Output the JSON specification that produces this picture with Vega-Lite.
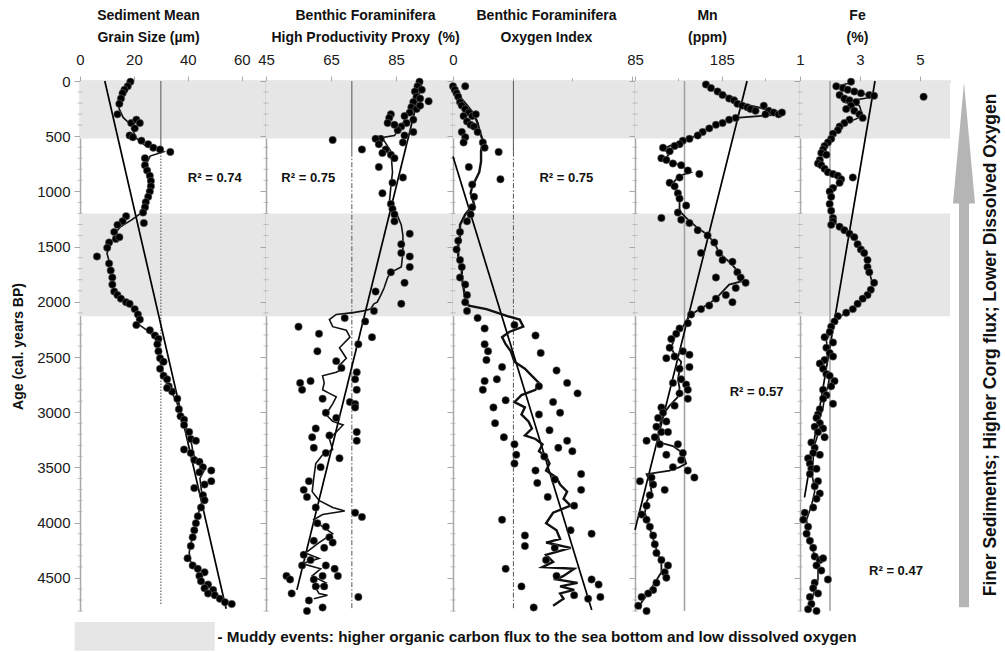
{
"$schema": "https://vega.github.io/schema/vega-lite/v6.json",
"padding": {"left": 11, "top": 8, "right": 0, "bottom": 0},
"background": "white",
"spacing": 0,
"bounds": "flush",
"resolve": {"scale": {"x": "independent", "y": "independent"}, "axis": {"x": "independent", "y": "independent"}},
"config": {
 "view": {"stroke": null},
 "font": "Liberation Sans",
 "axis": {"grid": false, "domainColor": "#a8a8a8", "tickColor": "#a8a8a8", "domainWidth": 1.5, "labelFont": "Liberation Sans", "labelFontSize": 15, "labelColor": "#1a1a1a", "titleFont": "Liberation Sans", "titleFontSize": 14, "titleFontWeight": "bold", "titleColor": "#111", "labelOverlap": false, "labelFlush": false, "labelBound": false}
},
"datasets": {
 "bands": [{"y": 0, "y2": 520}, {"y": 1200, "y2": 2130}],
 "minor": [{"y":100},{"y":200},{"y":300},{"y":400},{"y":600},{"y":700},{"y":800},{"y":900},{"y":1100},{"y":1200},{"y":1300},{"y":1400},{"y":1600},{"y":1700},{"y":1800},{"y":1900},{"y":2100},{"y":2200},{"y":2300},{"y":2400},{"y":2600},{"y":2700},{"y":2800},{"y":2900},{"y":3100},{"y":3200},{"y":3300},{"y":3400},{"y":3600},{"y":3700},{"y":3800},{"y":3900},{"y":4100},{"y":4200},{"y":4300},{"y":4400},{"y":4600},{"y":4700},{"y":4800}],
 "legbox": [{"x": -2, "x2": 50, "y": 4900, "y2": 5160}],
 "p1": [{"x":18.7,"y":6},{"x":17.7,"y":48},{"x":16.5,"y":79},{"x":15.8,"y":111},{"x":15.2,"y":159},{"x":14.6,"y":207},{"x":13.9,"y":302},{"x":19.0,"y":381},{"x":20.9,"y":350},{"x":22.2,"y":381},{"x":20.3,"y":429},{"x":18.4,"y":493},{"x":19.6,"y":509},{"x":22.8,"y":540},{"x":25.3,"y":572},{"x":27.2,"y":604},{"x":29.7,"y":620},{"x":33.5,"y":642},{"x":24.1,"y":699},{"x":24.1,"y":763},{"x":24.9,"y":811},{"x":25.9,"y":858},{"x":26.3,"y":906},{"x":26.3,"y":954},{"x":25.9,"y":1001},{"x":25.3,"y":1049},{"x":24.4,"y":1097},{"x":24.1,"y":1144},{"x":23.4,"y":1192},{"x":23.7,"y":1287},{"x":17.1,"y":1224},{"x":15.8,"y":1271},{"x":13.9,"y":1303},{"x":12.7,"y":1367},{"x":13.3,"y":1430},{"x":14.6,"y":1414},{"x":10.8,"y":1462},{"x":10.1,"y":1510},{"x":6.3,"y":1589},{"x":10.8,"y":1653},{"x":11.4,"y":1716},{"x":12.0,"y":1780},{"x":12.0,"y":1844},{"x":12.7,"y":1907},{"x":13.9,"y":1939},{"x":15.2,"y":1971},{"x":17.1,"y":2003},{"x":18.4,"y":2018},{"x":20.3,"y":2066},{"x":21.5,"y":2114},{"x":22.2,"y":2161},{"x":20.9,"y":2209},{"x":25.9,"y":2257},{"x":27.8,"y":2305},{"x":29.1,"y":2336},{"x":28.7,"y":2384},{"x":29.1,"y":2448},{"x":29.7,"y":2511},{"x":31.0,"y":2543},{"x":29.7,"y":2606},{"x":31.0,"y":2670},{"x":32.3,"y":2702},{"x":32.9,"y":2765},{"x":34.2,"y":2813},{"x":32.3,"y":2781},{"x":36.1,"y":2877},{"x":36.7,"y":2972},{"x":37.3,"y":3036},{"x":38.6,"y":3067},{"x":38.6,"y":3115},{"x":40.5,"y":3179},{"x":41.1,"y":3242},{"x":43.0,"y":3258},{"x":38.6,"y":3338},{"x":41.1,"y":3369},{"x":42.4,"y":3433},{"x":44.3,"y":3449},{"x":45.6,"y":3497},{"x":48.7,"y":3528},{"x":44.3,"y":3544},{"x":48.7,"y":3624},{"x":46.2,"y":3655},{"x":42.4,"y":3687},{"x":45.6,"y":3751},{"x":46.2,"y":3798},{"x":44.9,"y":3862},{"x":43.7,"y":3942},{"x":43.0,"y":4005},{"x":42.4,"y":4069},{"x":41.8,"y":4132},{"x":41.1,"y":4212},{"x":39.9,"y":4323},{"x":41.8,"y":4387},{"x":43.7,"y":4418},{"x":46.2,"y":4450},{"x":44.3,"y":4482},{"x":44.9,"y":4530},{"x":47.5,"y":4561},{"x":46.2,"y":4593},{"x":49.4,"y":4609},{"x":47.5,"y":4641},{"x":50.0,"y":4657},{"x":51.9,"y":4689},{"x":53.8,"y":4720},{"x":56.3,"y":4736}],
 "p1m": [{"x":18.5,"y":5},{"x":16.5,"y":80},{"x":15,"y":160},{"x":14.5,"y":250},{"x":16,"y":330},{"x":19,"y":400},{"x":20,"y":470},{"x":21,"y":520},{"x":24,"y":580},{"x":29,"y":625},{"x":31,"y":640},{"x":26,"y":680},{"x":24.5,"y":760},{"x":25.5,"y":860},{"x":26,"y":950},{"x":25.5,"y":1040},{"x":24,"y":1130},{"x":22.5,"y":1200},{"x":19,"y":1260},{"x":15,"y":1320},{"x":13,"y":1380},{"x":12,"y":1450},{"x":10,"y":1560},{"x":11,"y":1650},{"x":11.5,"y":1750},{"x":12,"y":1850},{"x":13.5,"y":1930},{"x":16,"y":1990},{"x":19,"y":2050},{"x":21,"y":2110},{"x":21.5,"y":2200},{"x":25,"y":2260},{"x":28,"y":2330},{"x":29,"y":2420},{"x":29.5,"y":2520},{"x":30.5,"y":2620},{"x":31.5,"y":2700},{"x":33,"y":2790},{"x":35.5,"y":2880},{"x":37,"y":2990},{"x":38.5,"y":3090},{"x":40.5,"y":3200},{"x":41.5,"y":3300},{"x":42,"y":3380},{"x":44,"y":3460},{"x":46,"y":3530},{"x":44.5,"y":3600},{"x":45,"y":3700},{"x":45.5,"y":3790},{"x":44.5,"y":3870},{"x":43.5,"y":3950},{"x":42.5,"y":4050},{"x":41.5,"y":4150},{"x":40.5,"y":4270},{"x":41,"y":4350},{"x":43,"y":4420},{"x":45,"y":4500},{"x":46.5,"y":4580},{"x":48,"y":4640},{"x":50.5,"y":4680},{"x":54,"y":4730}],
 "p2": [{"x":92.2,"y":6},{"x":91.6,"y":48},{"x":92.9,"y":79},{"x":90.8,"y":95},{"x":91.3,"y":143},{"x":92.4,"y":159},{"x":90.3,"y":191},{"x":95.0,"y":184},{"x":89.7,"y":238},{"x":91.3,"y":254},{"x":92.4,"y":223},{"x":89.2,"y":286},{"x":87.6,"y":318},{"x":90.3,"y":350},{"x":88.2,"y":381},{"x":86.6,"y":413},{"x":85.5,"y":445},{"x":90.3,"y":461},{"x":87.6,"y":493},{"x":83.4,"y":302},{"x":82.9,"y":334},{"x":82.4,"y":381},{"x":84.5,"y":397},{"x":87.1,"y":556},{"x":80.3,"y":524},{"x":78.7,"y":524},{"x":79.7,"y":572},{"x":81.8,"y":620},{"x":80.8,"y":652},{"x":83.4,"y":668},{"x":84.5,"y":699},{"x":74.5,"y":620},{"x":65.5,"y":534},{"x":79.7,"y":779},{"x":87.1,"y":874},{"x":83.9,"y":922},{"x":80.8,"y":1017},{"x":83.4,"y":1113},{"x":83.9,"y":1160},{"x":84.5,"y":1208},{"x":84.5,"y":1271},{"x":89.2,"y":1383},{"x":86.6,"y":1478},{"x":89.2,"y":1589},{"x":86.6,"y":1558},{"x":89.2,"y":1685},{"x":83.4,"y":1732},{"x":87.6,"y":1828},{"x":78.7,"y":1907},{"x":86.6,"y":2018},{"x":78.2,"y":2082},{"x":75.5,"y":2177},{"x":69.2,"y":2146},{"x":55.0,"y":2225},{"x":61.3,"y":2289},{"x":77.6,"y":2320},{"x":73.4,"y":2384},{"x":60.8,"y":2448},{"x":66.6,"y":2537},{"x":68.2,"y":2600},{"x":72.9,"y":2638},{"x":58.7,"y":2718},{"x":72.4,"y":2702},{"x":55.5,"y":2734},{"x":56.1,"y":2797},{"x":72.9,"y":2797},{"x":62.4,"y":2877},{"x":70.8,"y":2908},{"x":72.4,"y":2925},{"x":63.4,"y":3004},{"x":72.4,"y":2956},{"x":66.6,"y":3051},{"x":60.3,"y":3147},{"x":72.9,"y":3179},{"x":59.2,"y":3226},{"x":64.5,"y":3210},{"x":72.9,"y":3258},{"x":59.7,"y":3322},{"x":63.4,"y":3369},{"x":67.6,"y":3417},{"x":61.8,"y":3497},{"x":58.2,"y":3624},{"x":56.6,"y":3703},{"x":57.6,"y":3767},{"x":60.3,"y":3862},{"x":72.4,"y":3910},{"x":74.5,"y":3948},{"x":60.8,"y":4005},{"x":63.4,"y":4037},{"x":64.5,"y":4132},{"x":59.7,"y":4164},{"x":65.5,"y":4180},{"x":62.9,"y":4228},{"x":56.6,"y":4291},{"x":58.7,"y":4339},{"x":56.1,"y":4387},{"x":63.4,"y":4387},{"x":66.1,"y":4418},{"x":51.3,"y":4482},{"x":52.4,"y":4514},{"x":59.7,"y":4514},{"x":62.4,"y":4482},{"x":67.1,"y":4482},{"x":52.9,"y":4641},{"x":60.3,"y":4577},{"x":62.9,"y":4577},{"x":58.2,"y":4704},{"x":73.4,"y":4673},{"x":62.4,"y":4768},{"x":57.6,"y":4800}],
 "p2m": [{"x":91.8,"y":16},{"x":90.3,"y":159},{"x":88.7,"y":286},{"x":86.6,"y":413},{"x":84.5,"y":493},{"x":78.2,"y":524},{"x":81.3,"y":540},{"x":83.4,"y":636},{"x":83.9,"y":826},{"x":83.4,"y":954},{"x":82.9,"y":1113},{"x":83.9,"y":1176},{"x":85.5,"y":1224},{"x":86.6,"y":1303},{"x":87.1,"y":1399},{"x":87.1,"y":1558},{"x":86.6,"y":1685},{"x":83.4,"y":1732},{"x":82.4,"y":1780},{"x":81.3,"y":1875},{"x":80.3,"y":1939},{"x":79.2,"y":2003},{"x":78.2,"y":2018},{"x":77.1,"y":2066},{"x":75.0,"y":2082},{"x":71.8,"y":2098},{"x":66.6,"y":2114},{"x":64.5,"y":2161},{"x":65.5,"y":2225},{"x":69.7,"y":2257},{"x":70.8,"y":2320},{"x":67.6,"y":2416},{"x":69.7,"y":2511},{"x":67.6,"y":2575},{"x":68.7,"y":2606},{"x":66.6,"y":2638},{"x":62.4,"y":2670},{"x":62.9,"y":2734},{"x":62.4,"y":2797},{"x":64.5,"y":2829},{"x":66.6,"y":2861},{"x":65.5,"y":2924},{"x":63.4,"y":3020},{"x":65.5,"y":3083},{"x":68.7,"y":3115},{"x":66.6,"y":3179},{"x":64.5,"y":3242},{"x":65.5,"y":3338},{"x":62.4,"y":3385},{"x":60.3,"y":3465},{"x":59.7,"y":3592},{"x":59.2,"y":3719},{"x":61.3,"y":3798},{"x":65.5,"y":3862},{"x":69.2,"y":3894},{"x":62.4,"y":3926},{"x":59.7,"y":3973},{"x":62.4,"y":4037},{"x":65.5,"y":4100},{"x":61.3,"y":4180},{"x":57.1,"y":4275},{"x":61.3,"y":4323},{"x":56.1,"y":4371},{"x":61.8,"y":4418},{"x":59.2,"y":4482},{"x":63.4,"y":4545},{"x":60.3,"y":4593},{"x":61.3,"y":4641},{"x":63.9,"y":4657},{"x":59.7,"y":4689}],
 "p3": [{"x":0,"y":48},{"x":1.2,"y":79},{"x":2.4,"y":111},{"x":3.5,"y":143},{"x":8.2,"y":48},{"x":4.7,"y":191},{"x":5.9,"y":223},{"x":8.2,"y":254},{"x":10.6,"y":286},{"x":12.9,"y":318},{"x":15.3,"y":302},{"x":7.1,"y":318},{"x":9.4,"y":366},{"x":11.8,"y":397},{"x":14.1,"y":413},{"x":5.9,"y":461},{"x":8.2,"y":509},{"x":7.1,"y":556},{"x":16.5,"y":461},{"x":20.0,"y":556},{"x":21.2,"y":604},{"x":30.6,"y":642},{"x":10.6,"y":779},{"x":31.8,"y":890},{"x":12.9,"y":938},{"x":14.1,"y":1049},{"x":12.9,"y":1144},{"x":11.8,"y":1208},{"x":9.4,"y":1271},{"x":4.7,"y":1367},{"x":3.5,"y":1446},{"x":2.4,"y":1526},{"x":4.7,"y":1621},{"x":5.9,"y":1685},{"x":4.7,"y":1780},{"x":8.2,"y":1844},{"x":9.4,"y":1939},{"x":8.2,"y":2003},{"x":9.4,"y":2082},{"x":16.5,"y":2146},{"x":21.2,"y":2241},{"x":41.2,"y":2209},{"x":55.3,"y":2305},{"x":21.2,"y":2384},{"x":23.5,"y":2448},{"x":58.8,"y":2463},{"x":22.4,"y":2527},{"x":32.9,"y":2591},{"x":69.4,"y":2622},{"x":21.2,"y":2718},{"x":29.4,"y":2702},{"x":76.5,"y":2734},{"x":20.0,"y":2797},{"x":83.5,"y":2829},{"x":57.6,"y":2765},{"x":35.3,"y":2892},{"x":27.1,"y":2956},{"x":67.1,"y":2908},{"x":28.2,"y":3099},{"x":57.6,"y":3020},{"x":71.8,"y":3004},{"x":34.1,"y":3226},{"x":64.7,"y":3163},{"x":76.5,"y":3258},{"x":41.2,"y":3290},{"x":70.6,"y":3322},{"x":80.0,"y":3353},{"x":42.4,"y":3385},{"x":61.2,"y":3401},{"x":41.2,"y":3465},{"x":55.3,"y":3528},{"x":85.9,"y":3560},{"x":68.2,"y":3608},{"x":56.5,"y":3640},{"x":85.9,"y":3703},{"x":63.5,"y":3767},{"x":81.2,"y":3846},{"x":32.9,"y":3973},{"x":48.2,"y":4116},{"x":78.8,"y":4069},{"x":92.9,"y":4100},{"x":48.2,"y":4212},{"x":68.2,"y":4228},{"x":62.4,"y":4339},{"x":35.3,"y":4418},{"x":69.4,"y":4482},{"x":45.9,"y":4577},{"x":92.9,"y":4514},{"x":97.6,"y":4561},{"x":98.8,"y":4673},{"x":90.6,"y":4689},{"x":54.1,"y":4768},{"x":81.2,"y":4657}],
 "p3m": [{"x":0,"y":48},{"x":3.5,"y":127},{"x":9.4,"y":223},{"x":14.1,"y":302},{"x":16.5,"y":381},{"x":17.6,"y":445},{"x":20.0,"y":540},{"x":18.8,"y":636},{"x":18.8,"y":731},{"x":17.6,"y":826},{"x":15.3,"y":890},{"x":12.9,"y":954},{"x":11.8,"y":1017},{"x":14.1,"y":1113},{"x":8.2,"y":1208},{"x":4.7,"y":1303},{"x":4.7,"y":1399},{"x":3.5,"y":1494},{"x":3.5,"y":1589},{"x":5.9,"y":1685},{"x":5.9,"y":1780},{"x":7.1,"y":1875},{"x":8.2,"y":1971},{"x":10.6,"y":2034},{"x":22.4,"y":2066},{"x":36.5,"y":2130},{"x":44.7,"y":2161},{"x":47.1,"y":2225},{"x":37.6,"y":2273},{"x":32.9,"y":2320},{"x":35.3,"y":2384},{"x":38.8,"y":2448},{"x":41.2,"y":2543},{"x":48.2,"y":2606},{"x":52.9,"y":2670},{"x":57.6,"y":2734},{"x":55.3,"y":2797},{"x":45.9,"y":2845},{"x":41.2,"y":2908},{"x":48.2,"y":2956},{"x":45.9,"y":3020},{"x":50.6,"y":3083},{"x":52.9,"y":3147},{"x":48.2,"y":3210},{"x":55.3,"y":3242},{"x":60.0,"y":3290},{"x":57.6,"y":3353},{"x":62.4,"y":3401},{"x":64.7,"y":3465},{"x":62.4,"y":3528},{"x":69.4,"y":3592},{"x":71.8,"y":3655},{"x":76.5,"y":3719},{"x":74.1,"y":3783},{"x":78.8,"y":3846},{"x":67.1,"y":3910},{"x":62.4,"y":4005},{"x":69.4,"y":4069},{"x":71.8,"y":4148},{"x":62.4,"y":4180},{"x":78.8,"y":4228},{"x":62.4,"y":4291},{"x":67.1,"y":4355},{"x":60.0,"y":4402},{"x":81.2,"y":4418},{"x":74.1,"y":4482},{"x":69.4,"y":4514},{"x":83.5,"y":4545},{"x":71.8,"y":4577},{"x":81.2,"y":4609},{"x":71.8,"y":4641},{"x":74.1,"y":4689},{"x":67.1,"y":4752}],
 "p4": [{"x":166.7,"y":32},{"x":172.5,"y":64},{"x":180.1,"y":95},{"x":185.8,"y":127},{"x":193.4,"y":159},{"x":199.1,"y":175},{"x":202.9,"y":207},{"x":208.6,"y":223},{"x":214.3,"y":238},{"x":218.1,"y":254},{"x":223.8,"y":270},{"x":233.3,"y":223},{"x":239.0,"y":270},{"x":244.7,"y":286},{"x":250.4,"y":302},{"x":254.2,"y":286},{"x":235.2,"y":302},{"x":201.0,"y":334},{"x":193.4,"y":350},{"x":185.8,"y":381},{"x":178.2,"y":397},{"x":170.5,"y":429},{"x":162.9,"y":461},{"x":157.2,"y":493},{"x":147.7,"y":524},{"x":140.1,"y":540},{"x":136.3,"y":572},{"x":130.6,"y":588},{"x":117.3,"y":604},{"x":124.9,"y":636},{"x":115.4,"y":699},{"x":121.1,"y":715},{"x":128.7,"y":747},{"x":138.2,"y":763},{"x":145.8,"y":811},{"x":159.1,"y":842},{"x":136.3,"y":874},{"x":124.9,"y":922},{"x":130.6,"y":954},{"x":134.4,"y":1017},{"x":136.3,"y":1065},{"x":143.9,"y":1128},{"x":134.4,"y":1192},{"x":115.4,"y":1240},{"x":138.2,"y":1256},{"x":147.7,"y":1287},{"x":157.2,"y":1351},{"x":168.6,"y":1399},{"x":176.3,"y":1462},{"x":161.0,"y":1558},{"x":181.9,"y":1558},{"x":185.8,"y":1621},{"x":197.2,"y":1637},{"x":202.9,"y":1732},{"x":206.7,"y":1780},{"x":212.4,"y":1828},{"x":201.0,"y":1875},{"x":178.2,"y":1780},{"x":189.6,"y":1939},{"x":197.2,"y":2003},{"x":178.2,"y":1971},{"x":170.5,"y":2034},{"x":161.0,"y":2066},{"x":149.6,"y":2114},{"x":145.8,"y":2193},{"x":136.3,"y":2241},{"x":132.5,"y":2289},{"x":126.8,"y":2336},{"x":124.9,"y":2416},{"x":121.1,"y":2511},{"x":130.6,"y":2495},{"x":140.1,"y":2448},{"x":147.7,"y":2479},{"x":147.7,"y":2591},{"x":136.3,"y":2606},{"x":138.2,"y":2702},{"x":128.7,"y":2734},{"x":143.9,"y":2749},{"x":145.8,"y":2797},{"x":136.3,"y":2829},{"x":145.8,"y":2877},{"x":130.6,"y":2940},{"x":115.4,"y":2956},{"x":117.3,"y":3004},{"x":111.6,"y":3051},{"x":121.1,"y":3083},{"x":109.7,"y":3131},{"x":115.4,"y":3179},{"x":123.0,"y":3179},{"x":98.3,"y":3258},{"x":107.8,"y":3226},{"x":113.5,"y":3290},{"x":121.1,"y":3385},{"x":134.4,"y":3290},{"x":140.1,"y":3369},{"x":128.7,"y":3497},{"x":138.2,"y":3433},{"x":145.8,"y":3528},{"x":153.4,"y":3592},{"x":90.7,"y":3624},{"x":104.0,"y":3592},{"x":105.9,"y":3655},{"x":119.2,"y":3703},{"x":102.1,"y":3751},{"x":98.3,"y":3846},{"x":92.6,"y":3926},{"x":98.3,"y":3973},{"x":102.1,"y":4037},{"x":105.9,"y":4116},{"x":107.8,"y":4196},{"x":109.7,"y":4275},{"x":115.4,"y":4339},{"x":123.0,"y":4387},{"x":119.2,"y":4450},{"x":121.1,"y":4498},{"x":109.7,"y":4545},{"x":105.9,"y":4609},{"x":100.2,"y":4641},{"x":92.6,"y":4673},{"x":88.8,"y":4752},{"x":98.3,"y":4800}],
 "p4m": [{"x":164.8,"y":32},{"x":178.2,"y":79},{"x":193.4,"y":143},{"x":208.6,"y":207},{"x":227.6,"y":238},{"x":246.6,"y":286},{"x":254.2,"y":302},{"x":227.6,"y":318},{"x":201.0,"y":334},{"x":182.0,"y":381},{"x":166.7,"y":445},{"x":151.5,"y":509},{"x":136.3,"y":556},{"x":124.9,"y":588},{"x":117.3,"y":620},{"x":124.9,"y":652},{"x":119.2,"y":715},{"x":132.5,"y":747},{"x":143.9,"y":795},{"x":149.6,"y":826},{"x":136.3,"y":858},{"x":128.7,"y":922},{"x":132.5,"y":1001},{"x":136.3,"y":1081},{"x":136.3,"y":1176},{"x":143.9,"y":1240},{"x":155.3,"y":1319},{"x":166.7,"y":1383},{"x":176.3,"y":1462},{"x":182.0,"y":1558},{"x":193.4,"y":1637},{"x":201.0,"y":1701},{"x":208.6,"y":1812},{"x":193.4,"y":1844},{"x":182.0,"y":1939},{"x":170.5,"y":2018},{"x":159.1,"y":2066},{"x":147.7,"y":2130},{"x":140.1,"y":2225},{"x":130.6,"y":2320},{"x":126.8,"y":2416},{"x":130.6,"y":2479},{"x":138.2,"y":2543},{"x":136.3,"y":2622},{"x":134.4,"y":2702},{"x":136.3,"y":2781},{"x":134.4,"y":2861},{"x":124.9,"y":2940},{"x":117.3,"y":3020},{"x":113.5,"y":3115},{"x":111.6,"y":3210},{"x":113.5,"y":3274},{"x":128.7,"y":3306},{"x":140.1,"y":3369},{"x":143.9,"y":3465},{"x":136.3,"y":3497},{"x":124.9,"y":3528},{"x":98.3,"y":3560},{"x":102.1,"y":3624},{"x":104.0,"y":3719},{"x":98.3,"y":3814},{"x":96.4,"y":3910},{"x":100.2,"y":4005},{"x":104.0,"y":4100},{"x":107.8,"y":4196},{"x":111.6,"y":4291},{"x":115.4,"y":4355},{"x":115.4,"y":4450},{"x":107.8,"y":4545},{"x":100.2,"y":4641},{"x":92.6,"y":4720},{"x":90.7,"y":4784}],
 "p5": [{"x":2.70,"y":6},{"x":5.12,"y":143},{"x":2.21,"y":48},{"x":2.43,"y":64},{"x":2.59,"y":79},{"x":2.81,"y":95},{"x":3.03,"y":111},{"x":3.31,"y":127},{"x":3.47,"y":134},{"x":2.32,"y":127},{"x":2.48,"y":159},{"x":2.65,"y":175},{"x":2.87,"y":191},{"x":2.70,"y":223},{"x":2.54,"y":254},{"x":2.81,"y":270},{"x":2.98,"y":302},{"x":3.09,"y":334},{"x":2.65,"y":350},{"x":2.48,"y":381},{"x":2.32,"y":413},{"x":2.26,"y":445},{"x":2.10,"y":477},{"x":2.04,"y":524},{"x":1.93,"y":556},{"x":1.82,"y":588},{"x":1.77,"y":620},{"x":1.71,"y":652},{"x":1.88,"y":668},{"x":1.66,"y":715},{"x":1.60,"y":747},{"x":1.71,"y":763},{"x":1.82,"y":795},{"x":1.93,"y":826},{"x":2.10,"y":842},{"x":2.26,"y":858},{"x":2.37,"y":890},{"x":2.32,"y":922},{"x":2.76,"y":874},{"x":2.10,"y":969},{"x":1.99,"y":1001},{"x":2.04,"y":1049},{"x":1.99,"y":1113},{"x":2.04,"y":1176},{"x":2.10,"y":1240},{"x":2.10,"y":1271},{"x":2.04,"y":1303},{"x":2.32,"y":1319},{"x":2.48,"y":1351},{"x":2.65,"y":1383},{"x":2.81,"y":1414},{"x":2.92,"y":1478},{"x":3.03,"y":1526},{"x":3.14,"y":1558},{"x":3.25,"y":1621},{"x":3.25,"y":1685},{"x":3.31,"y":1732},{"x":3.47,"y":1828},{"x":3.36,"y":1891},{"x":3.25,"y":1939},{"x":3.09,"y":1971},{"x":2.92,"y":2018},{"x":2.76,"y":2066},{"x":2.54,"y":2098},{"x":2.26,"y":2130},{"x":2.15,"y":2177},{"x":2.04,"y":2225},{"x":1.99,"y":2273},{"x":1.82,"y":2320},{"x":2.10,"y":2368},{"x":1.88,"y":2416},{"x":1.99,"y":2463},{"x":2.10,"y":2495},{"x":1.82,"y":2527},{"x":1.66,"y":2559},{"x":1.77,"y":2606},{"x":1.88,"y":2654},{"x":1.99,"y":2670},{"x":2.15,"y":2718},{"x":2.04,"y":2765},{"x":1.77,"y":2797},{"x":1.88,"y":2845},{"x":1.77,"y":2877},{"x":2.10,"y":2924},{"x":1.66,"y":2972},{"x":1.60,"y":3020},{"x":1.55,"y":3051},{"x":1.66,"y":3099},{"x":1.49,"y":3131},{"x":1.77,"y":3147},{"x":1.60,"y":3179},{"x":1.82,"y":3226},{"x":1.38,"y":3274},{"x":1.49,"y":3322},{"x":1.44,"y":3369},{"x":1.66,"y":3385},{"x":1.27,"y":3417},{"x":1.33,"y":3465},{"x":1.38,"y":3512},{"x":1.55,"y":3512},{"x":1.33,"y":3560},{"x":1.60,"y":3624},{"x":1.49,"y":3671},{"x":1.66,"y":3735},{"x":1.55,"y":3783},{"x":1.44,"y":3862},{"x":1.16,"y":3910},{"x":1.11,"y":3973},{"x":1.27,"y":4037},{"x":1.22,"y":4100},{"x":1.33,"y":4164},{"x":1.44,"y":4228},{"x":1.49,"y":4307},{"x":1.66,"y":4339},{"x":1.77,"y":4323},{"x":1.55,"y":4387},{"x":1.71,"y":4434},{"x":1.93,"y":4514},{"x":1.49,"y":4545},{"x":1.44,"y":4593},{"x":1.60,"y":4641},{"x":1.33,"y":4673},{"x":1.38,"y":4736},{"x":1.27,"y":4784},{"x":1.55,"y":4800}],
 "p5m": [{"x":2.70,"y":16},{"x":2.21,"y":48},{"x":3.47,"y":143},{"x":2.43,"y":191},{"x":2.98,"y":223},{"x":3.09,"y":318},{"x":2.54,"y":381},{"x":2.21,"y":461},{"x":1.93,"y":556},{"x":1.77,"y":636},{"x":1.66,"y":731},{"x":1.88,"y":811},{"x":2.32,"y":858},{"x":2.32,"y":922},{"x":2.04,"y":1017},{"x":2.04,"y":1176},{"x":2.10,"y":1271},{"x":2.43,"y":1351},{"x":2.81,"y":1430},{"x":3.03,"y":1526},{"x":3.25,"y":1637},{"x":3.36,"y":1780},{"x":3.42,"y":1844},{"x":3.20,"y":1955},{"x":2.81,"y":2050},{"x":2.26,"y":2146},{"x":2.04,"y":2241},{"x":1.88,"y":2352},{"x":1.93,"y":2479},{"x":1.77,"y":2575},{"x":1.99,"y":2670},{"x":1.93,"y":2765},{"x":1.82,"y":2861},{"x":1.77,"y":2956},{"x":1.66,"y":3051},{"x":1.66,"y":3147},{"x":1.55,"y":3242},{"x":1.44,"y":3338},{"x":1.44,"y":3433},{"x":1.38,"y":3528},{"x":1.44,"y":3624},{"x":1.49,"y":3719},{"x":1.38,"y":3846},{"x":1.22,"y":3973},{"x":1.27,"y":4100},{"x":1.38,"y":4228},{"x":1.55,"y":4323},{"x":1.60,"y":4418},{"x":1.60,"y":4514},{"x":1.49,"y":4609},{"x":1.38,"y":4704},{"x":1.33,"y":4784}],
 "shaft": [{"x": 9, "x2": 19, "y": 1100, "y2": 4765}],
 "head": [{"x": 14, "y": 562}]
},
"hconcat": [
 {
  "width": 186, "height": 530,
  "layer": [
   {"data": {"name": "bands"}, "mark": {"type": "rect", "fill": "#e6e6e6"},
    "encoding": {"y": {"field": "y", "type": "quantitative", "scale": {"domain": [0, 4800], "reverse": true, "nice": false, "zero": false},
      "axis": {"orient": "left", "title": "Age (cal. years BP)", "format": "d", "values": [0,500,1000,1500,2000,2500,3000,3500,4000,4500],
       "labelOverlap": false, "tickSize": 6, "labelPadding": 4, "titlePadding": 11}},
     "y2": {"field": "y2"}}},
   {"data": {"name": "minor"}, "mark": {"type": "tick", "orient": "horizontal", "size": 5, "thickness": 1, "color": "#a8a8a8"},
    "encoding": {"x": {"datum": 0, "type": "quantitative", "scale": {"domain": [0, 69], "nice": false, "zero": false}}, "y": {"field": "y", "type": "quantitative", "scale": {"domain": [0, 4800], "reverse": true, "nice": false, "zero": false}}}},
   {"data": {"name": "legbox"}, "mark": {"type": "rect", "fill": "#e6e6e6"},
    "encoding": {"x": {"field": "x", "type": "quantitative", "scale": {"domain": [0, 69], "nice": false, "zero": false},
      "axis": {"orient": "top", "title": ["Sediment Mean", "Grain Size (µm)"], "values": [0,5,10,15,20,25,30,35,40,45,50,55,60,65], "labelOverlap": false,
       "labelExpr": "datum.value % 20 === 0 ? datum.label : ''", "tickSize": {"condition": {"test": "datum.value % 20 === 0", "value": 5}, "value": 3}, "labelPadding": 9,
       "titleX": 68, "titleY": -62, "titleAlign": "center", "titleBaseline": "alphabetic", "titleLineHeight": 22}},
     "x2": {"field": "x2"}, "y": {"field": "y", "type": "quantitative", "scale": {"domain": [0, 4800], "reverse": true, "nice": false, "zero": false}}, "y2": {"field": "y2"}}},
   {"data": {"values": [{"x": 51, "y": 5036, "t": "- Muddy events: higher organic carbon flux to the sea bottom and low dissolved oxygen"}]},
    "mark": {"type": "text", "align": "left", "baseline": "middle", "font": "Liberation Sans Narrow, Liberation Sans", "fontSize": 15.3, "fontWeight": "bold", "color": "#111"},
    "encoding": {"x": {"field": "x", "type": "quantitative", "scale": {"domain": [0, 69], "nice": false, "zero": false}}, "y": {"field": "y", "type": "quantitative", "scale": {"domain": [0, 4800], "reverse": true, "nice": false, "zero": false}}, "text": {"field": "t"}}},
   {"data": {"values": [{"x": 30, "y": 0, "y2": 620}]}, "mark": {"type": "rule", "color": "#555", "strokeWidth": 1},
    "encoding": {"x": {"field": "x", "type": "quantitative", "scale": {"domain": [0, 69], "nice": false, "zero": false}}, "y": {"field": "y", "type": "quantitative", "scale": {"domain": [0, 4800], "reverse": true, "nice": false, "zero": false}}, "y2": {"field": "y2"}}},
   {"data": {"values": [{"x": 30, "y": 620, "y2": 4736}]}, "mark": {"type": "rule", "color": "#666", "strokeWidth": 1.2, "strokeDash": [1.5, 1.5]},
    "encoding": {"x": {"field": "x", "type": "quantitative", "scale": {"domain": [0, 69], "nice": false, "zero": false}}, "y": {"field": "y", "type": "quantitative", "scale": {"domain": [0, 4800], "reverse": true, "nice": false, "zero": false}}, "y2": {"field": "y2"}}},
   {"data": {"values": [{"x": 9.2, "y": 0, "x2": 54.2, "y2": 4780}]}, "mark": {"type": "rule", "color": "#000", "strokeWidth": 1.7},
    "encoding": {"x": {"field": "x", "type": "quantitative", "scale": {"domain": [0, 69], "nice": false, "zero": false}}, "x2": {"field": "x2"}, "y": {"field": "y", "type": "quantitative", "scale": {"domain": [0, 4800], "reverse": true, "nice": false, "zero": false}}, "y2": {"field": "y2"}}},
   {"data": {"name": "p1m"}, "mark": {"type": "line", "color": "#111", "strokeWidth": 1.6},
    "encoding": {"x": {"field": "x", "type": "quantitative", "scale": {"domain": [0, 69], "nice": false, "zero": false}}, "y": {"field": "y", "type": "quantitative", "scale": {"domain": [0, 4800], "reverse": true, "nice": false, "zero": false}}, "order": {"field": "y"}}},
   {"data": {"name": "p1"}, "mark": {"type": "point", "shape": "circle", "filled": true, "size": 56, "color": "#000", "opacity": 1, "stroke": "#777", "strokeWidth": 0.5},
    "encoding": {"x": {"field": "x", "type": "quantitative", "scale": {"domain": [0, 69], "nice": false, "zero": false}}, "y": {"field": "y", "type": "quantitative", "scale": {"domain": [0, 4800], "reverse": true, "nice": false, "zero": false}}}},
   {"data": {"values": [{"x": 50, "y": 880, "t": "R² = 0.74"}]}, "mark": {"type": "text", "fontSize": 13, "fontWeight": "bold", "color": "#111", "align": "center", "baseline": "middle"},
    "encoding": {"x": {"field": "x", "type": "quantitative", "scale": {"domain": [0, 69], "nice": false, "zero": false}}, "y": {"field": "y", "type": "quantitative", "scale": {"domain": [0, 4800], "reverse": true, "nice": false, "zero": false}}, "text": {"field": "t"}}}
  ]
 },
 {
  "width": 187, "height": 530,
  "layer": [
   {"data": {"name": "bands"}, "mark": {"type": "rect", "fill": "#e6e6e6"},
    "encoding": {"y": {"field": "y", "type": "quantitative", "scale": {"domain": [0, 4800], "reverse": true, "nice": false, "zero": false},
      "axis": {"orient": "left", "title": null, "labels": false, "values": [0,500,1000,1500,2000,2500,3000,3500,4000,4500], "tickSize": 6}},
     "y2": {"field": "y2"}}},
   {"data": {"name": "minor"}, "mark": {"type": "tick", "orient": "horizontal", "size": 5, "thickness": 1, "color": "#a8a8a8"},
    "encoding": {"x": {"datum": 45, "type": "quantitative", "scale": {"domain": [45, 102.5], "nice": false, "zero": false}}, "y": {"field": "y", "type": "quantitative", "scale": {"domain": [0, 4800], "reverse": true, "nice": false, "zero": false}}}},
   {"data": {"values": [{"x": 71.4, "y": 0, "y2": 640}]}, "mark": {"type": "rule", "color": "#555", "strokeWidth": 1},
    "encoding": {"x": {"field": "x", "type": "quantitative", "scale": {"domain": [45, 102.5], "nice": false, "zero": false},
      "axis": {"orient": "top", "title": ["Benthic Foraminifera", "High Productivity Proxy\u00a0\u00a0(%)"], "values": [45,50,55,60,65,70,75,80,85,90,95,100], "labelOverlap": false,
       "labelExpr": "(datum.value - 45) % 20 === 0 ? datum.label : ''", "tickSize": {"condition": {"test": "(datum.value - 45) % 20 === 0", "value": 5}, "value": 3}, "labelPadding": 9,
       "titleX": 99, "titleY": -62, "titleAlign": "center", "titleBaseline": "alphabetic", "titleLineHeight": 22}},
     "y": {"field": "y", "type": "quantitative", "scale": {"domain": [0, 4800], "reverse": true, "nice": false, "zero": false}}, "y2": {"field": "y2"}}},
   {"data": {"values": [{"x": 71.4, "y": 640, "y2": 4780}]}, "mark": {"type": "rule", "color": "#555", "strokeWidth": 1, "strokeDash": [5, 2, 1.5, 2]},
    "encoding": {"x": {"field": "x", "type": "quantitative", "scale": {"domain": [45, 102.5], "nice": false, "zero": false}}, "y": {"field": "y", "type": "quantitative", "scale": {"domain": [0, 4800], "reverse": true, "nice": false, "zero": false}}, "y2": {"field": "y2"}}},
   {"data": {"values": [{"x": 92.9, "y": 16, "x2": 54.5, "y2": 4609}]}, "mark": {"type": "rule", "color": "#000", "strokeWidth": 1.7},
    "encoding": {"x": {"field": "x", "type": "quantitative", "scale": {"domain": [45, 102.5], "nice": false, "zero": false}}, "x2": {"field": "x2"}, "y": {"field": "y", "type": "quantitative", "scale": {"domain": [0, 4800], "reverse": true, "nice": false, "zero": false}}, "y2": {"field": "y2"}}},
   {"data": {"name": "p2m"}, "mark": {"type": "line", "color": "#111", "strokeWidth": 1.6},
    "encoding": {"x": {"field": "x", "type": "quantitative", "scale": {"domain": [45, 102.5], "nice": false, "zero": false}}, "y": {"field": "y", "type": "quantitative", "scale": {"domain": [0, 4800], "reverse": true, "nice": false, "zero": false}}, "order": {"field": "y"}}},
   {"data": {"name": "p2"}, "mark": {"type": "point", "shape": "circle", "filled": true, "size": 56, "color": "#000", "opacity": 1, "stroke": "#777", "strokeWidth": 0.5},
    "encoding": {"x": {"field": "x", "type": "quantitative", "scale": {"domain": [45, 102.5], "nice": false, "zero": false}}, "y": {"field": "y", "type": "quantitative", "scale": {"domain": [0, 4800], "reverse": true, "nice": false, "zero": false}}}},
   {"data": {"values": [{"x": 58, "y": 880, "t": "R² = 0.75"}]}, "mark": {"type": "text", "fontSize": 13, "fontWeight": "bold", "color": "#111", "align": "center", "baseline": "middle"},
    "encoding": {"x": {"field": "x", "type": "quantitative", "scale": {"domain": [45, 102.5], "nice": false, "zero": false}}, "y": {"field": "y", "type": "quantitative", "scale": {"domain": [0, 4800], "reverse": true, "nice": false, "zero": false}}, "text": {"field": "t"}}}
  ]
 },
 {
  "width": 182, "height": 530,
  "layer": [
   {"data": {"name": "bands"}, "mark": {"type": "rect", "fill": "#e6e6e6"},
    "encoding": {"y": {"field": "y", "type": "quantitative", "scale": {"domain": [0, 4800], "reverse": true, "nice": false, "zero": false},
      "axis": {"orient": "left", "title": null, "labels": false, "values": [0,500,1000,1500,2000,2500,3000,3500,4000,4500], "tickSize": 6}},
     "y2": {"field": "y2"}}},
   {"data": {"name": "minor"}, "mark": {"type": "tick", "orient": "horizontal", "size": 5, "thickness": 1, "color": "#a8a8a8"},
    "encoding": {"x": {"datum": 0, "type": "quantitative", "scale": {"domain": [0, 122], "nice": false, "zero": false}}, "y": {"field": "y", "type": "quantitative", "scale": {"domain": [0, 4800], "reverse": true, "nice": false, "zero": false}}}},
   {"data": {"values": [{"x": 40.5, "y": 0, "y2": 640}]}, "mark": {"type": "rule", "color": "#555", "strokeWidth": 1},
    "encoding": {"x": {"field": "x", "type": "quantitative", "scale": {"domain": [0, 122], "nice": false, "zero": false},
      "axis": {"orient": "top", "title": ["Benthic Foraminifera", "Oxygen Index"], "values": [0,10,20,30,40,50,60,70,80,90,100,110,120], "labelOverlap": false,
       "labelExpr": "datum.value % 30 === 0 && datum.value <= 90 ? datum.label : ''", "tickSize": {"condition": {"test": "datum.value % 30 === 0", "value": 5}, "value": 3}, "labelPadding": 9,
       "titleX": 93, "titleY": -62, "titleAlign": "center", "titleBaseline": "alphabetic", "titleLineHeight": 22}},
     "y": {"field": "y", "type": "quantitative", "scale": {"domain": [0, 4800], "reverse": true, "nice": false, "zero": false}}, "y2": {"field": "y2"}}},
   {"data": {"values": [{"x": 40.5, "y": 640, "y2": 4780}]}, "mark": {"type": "rule", "color": "#555", "strokeWidth": 1, "strokeDash": [5, 2, 1.5, 2]},
    "encoding": {"x": {"field": "x", "type": "quantitative", "scale": {"domain": [0, 122], "nice": false, "zero": false}}, "y": {"field": "y", "type": "quantitative", "scale": {"domain": [0, 4800], "reverse": true, "nice": false, "zero": false}}, "y2": {"field": "y2"}}},
   {"data": {"values": [{"x": 0, "y": 683, "x2": 93, "y2": 4790}]}, "mark": {"type": "rule", "color": "#000", "strokeWidth": 1.7},
    "encoding": {"x": {"field": "x", "type": "quantitative", "scale": {"domain": [0, 122], "nice": false, "zero": false}}, "x2": {"field": "x2"}, "y": {"field": "y", "type": "quantitative", "scale": {"domain": [0, 4800], "reverse": true, "nice": false, "zero": false}}, "y2": {"field": "y2"}}},
   {"data": {"name": "p3m"}, "mark": {"type": "line", "color": "#111", "strokeWidth": 2.4},
    "encoding": {"x": {"field": "x", "type": "quantitative", "scale": {"domain": [0, 122], "nice": false, "zero": false}}, "y": {"field": "y", "type": "quantitative", "scale": {"domain": [0, 4800], "reverse": true, "nice": false, "zero": false}}, "order": {"field": "y"}}},
   {"data": {"name": "p3"}, "mark": {"type": "point", "shape": "circle", "filled": true, "size": 56, "color": "#000", "opacity": 1, "stroke": "#777", "strokeWidth": 0.5},
    "encoding": {"x": {"field": "x", "type": "quantitative", "scale": {"domain": [0, 122], "nice": false, "zero": false}}, "y": {"field": "y", "type": "quantitative", "scale": {"domain": [0, 4800], "reverse": true, "nice": false, "zero": false}}}},
   {"data": {"values": [{"x": 76, "y": 880, "t": "R² = 0.75"}]}, "mark": {"type": "text", "fontSize": 13, "fontWeight": "bold", "color": "#111", "align": "center", "baseline": "middle"},
    "encoding": {"x": {"field": "x", "type": "quantitative", "scale": {"domain": [0, 122], "nice": false, "zero": false}}, "y": {"field": "y", "type": "quantitative", "scale": {"domain": [0, 4800], "reverse": true, "nice": false, "zero": false}}, "text": {"field": "t"}}}
  ]
 },
 {
  "width": 165, "height": 530,
  "layer": [
   {"data": {"name": "bands"}, "mark": {"type": "rect", "fill": "#e6e6e6"},
    "encoding": {"y": {"field": "y", "type": "quantitative", "scale": {"domain": [0, 4800], "reverse": true, "nice": false, "zero": false},
      "axis": {"orient": "left", "title": null, "labels": false, "values": [0,500,1000,1500,2000,2500,3000,3500,4000,4500], "tickSize": 6}},
     "y2": {"field": "y2"}}},
   {"data": {"name": "minor"}, "mark": {"type": "tick", "orient": "horizontal", "size": 5, "thickness": 1, "color": "#a8a8a8"},
    "encoding": {"x": {"datum": 85, "type": "quantitative", "scale": {"domain": [85, 275], "nice": false, "zero": false}}, "y": {"field": "y", "type": "quantitative", "scale": {"domain": [0, 4800], "reverse": true, "nice": false, "zero": false}}}},
   {"data": {"values": [{"x": 142, "y": 0, "y2": 4800}]}, "mark": {"type": "rule", "color": "#a0a0a0", "strokeWidth": 1.5},
    "encoding": {"x": {"field": "x", "type": "quantitative", "scale": {"domain": [85, 275], "nice": false, "zero": false},
      "axis": {"orient": "top", "title": ["Mn", "(ppm)"], "values": [85,110,135,160,185,210,235,260], "labelOverlap": false,
       "labelExpr": "datum.value === 85 || datum.value === 185 ? datum.label : ''", "tickSize": {"condition": {"test": "datum.value === 85 || datum.value === 185", "value": 5}, "value": 3}, "labelPadding": 9,
       "titleX": 72, "titleY": -62, "titleAlign": "center", "titleBaseline": "alphabetic", "titleLineHeight": 22}},
     "y": {"field": "y", "type": "quantitative", "scale": {"domain": [0, 4800], "reverse": true, "nice": false, "zero": false}}, "y2": {"field": "y2"}}},
   {"data": {"values": [{"x": 214, "y": 0, "x2": 85, "y2": 4065}]}, "mark": {"type": "rule", "color": "#000", "strokeWidth": 1.7},
    "encoding": {"x": {"field": "x", "type": "quantitative", "scale": {"domain": [85, 275], "nice": false, "zero": false}}, "x2": {"field": "x2"}, "y": {"field": "y", "type": "quantitative", "scale": {"domain": [0, 4800], "reverse": true, "nice": false, "zero": false}}, "y2": {"field": "y2"}}},
   {"data": {"name": "p4m"}, "mark": {"type": "line", "color": "#111", "strokeWidth": 1.8},
    "encoding": {"x": {"field": "x", "type": "quantitative", "scale": {"domain": [85, 275], "nice": false, "zero": false}}, "y": {"field": "y", "type": "quantitative", "scale": {"domain": [0, 4800], "reverse": true, "nice": false, "zero": false}}, "order": {"field": "y"}}},
   {"data": {"name": "p4"}, "mark": {"type": "point", "shape": "circle", "filled": true, "size": 56, "color": "#000", "opacity": 1, "stroke": "#777", "strokeWidth": 0.5},
    "encoding": {"x": {"field": "x", "type": "quantitative", "scale": {"domain": [85, 275], "nice": false, "zero": false}}, "y": {"field": "y", "type": "quantitative", "scale": {"domain": [0, 4800], "reverse": true, "nice": false, "zero": false}}}},
   {"data": {"values": [{"x": 225, "y": 2817, "t": "R² = 0.57"}]}, "mark": {"type": "text", "fontSize": 13, "fontWeight": "bold", "color": "#111", "align": "center", "baseline": "middle"},
    "encoding": {"x": {"field": "x", "type": "quantitative", "scale": {"domain": [85, 275], "nice": false, "zero": false}}, "y": {"field": "y", "type": "quantitative", "scale": {"domain": [0, 4800], "reverse": true, "nice": false, "zero": false}}, "text": {"field": "t"}}}
  ]
 },
 {
  "width": 150, "height": 530,
  "layer": [
   {"data": {"name": "bands"}, "mark": {"type": "rect", "fill": "#e6e6e6"},
    "encoding": {"y": {"field": "y", "type": "quantitative", "scale": {"domain": [0, 4800], "reverse": true, "nice": false, "zero": false},
      "axis": {"orient": "left", "title": null, "labels": false, "values": [0,500,1000,1500,2000,2500,3000,3500,4000,4500], "tickSize": 6}},
     "y2": {"field": "y2"}}},
   {"data": {"name": "minor"}, "mark": {"type": "tick", "orient": "horizontal", "size": 5, "thickness": 1, "color": "#a8a8a8"},
    "encoding": {"x": {"datum": 1, "type": "quantitative", "scale": {"domain": [1, 6], "nice": false, "zero": false}}, "y": {"field": "y", "type": "quantitative", "scale": {"domain": [0, 4800], "reverse": true, "nice": false, "zero": false}}}},
   {"data": {"values": [{"x": 2.0, "y": 0, "y2": 4800}]}, "mark": {"type": "rule", "color": "#a0a0a0", "strokeWidth": 1.5},
    "encoding": {"x": {"field": "x", "type": "quantitative", "scale": {"domain": [1, 6], "nice": false, "zero": false},
      "axis": {"orient": "top", "title": ["Fe", "(%)"], "values": [1,1.5,2,2.5,3,3.5,4,4.5,5,5.5,6], "labelOverlap": false,
       "labelExpr": "datum.value === 1 || datum.value === 3 || datum.value === 5 ? datum.label : ''", "tickSize": {"condition": {"test": "datum.value === 1 || datum.value === 3 || datum.value === 5", "value": 5}, "value": 3}, "labelPadding": 9,
       "titleX": 57, "titleY": -62, "titleAlign": "center", "titleBaseline": "alphabetic", "titleLineHeight": 22}},
     "y": {"field": "y", "type": "quantitative", "scale": {"domain": [0, 4800], "reverse": true, "nice": false, "zero": false}}, "y2": {"field": "y2"}}},
   {"data": {"values": [{"x": 3.5, "y": 0, "x2": 1.15, "y2": 3770}]}, "mark": {"type": "rule", "color": "#000", "strokeWidth": 1.7},
    "encoding": {"x": {"field": "x", "type": "quantitative", "scale": {"domain": [1, 6], "nice": false, "zero": false}}, "x2": {"field": "x2"}, "y": {"field": "y", "type": "quantitative", "scale": {"domain": [0, 4800], "reverse": true, "nice": false, "zero": false}}, "y2": {"field": "y2"}}},
   {"data": {"name": "p5m"}, "mark": {"type": "line", "color": "#111", "strokeWidth": 1.6},
    "encoding": {"x": {"field": "x", "type": "quantitative", "scale": {"domain": [1, 6], "nice": false, "zero": false}}, "y": {"field": "y", "type": "quantitative", "scale": {"domain": [0, 4800], "reverse": true, "nice": false, "zero": false}}, "order": {"field": "y"}}},
   {"data": {"name": "p5"}, "mark": {"type": "point", "shape": "circle", "filled": true, "size": 56, "color": "#000", "opacity": 1, "stroke": "#777", "strokeWidth": 0.5},
    "encoding": {"x": {"field": "x", "type": "quantitative", "scale": {"domain": [1, 6], "nice": false, "zero": false}}, "y": {"field": "y", "type": "quantitative", "scale": {"domain": [0, 4800], "reverse": true, "nice": false, "zero": false}}}},
   {"data": {"values": [{"x": 4.2, "y": 4440, "t": "R² = 0.47"}]}, "mark": {"type": "text", "fontSize": 13, "fontWeight": "bold", "color": "#111", "align": "center", "baseline": "middle"},
    "encoding": {"x": {"field": "x", "type": "quantitative", "scale": {"domain": [1, 6], "nice": false, "zero": false}}, "y": {"field": "y", "type": "quantitative", "scale": {"domain": [0, 4800], "reverse": true, "nice": false, "zero": false}}, "text": {"field": "t"}}}
  ]
 },
 {
  "width": 55, "height": 530,
  "layer": [
   {"data": {"name": "shaft"}, "mark": {"type": "rect", "color": "#b5b5b5"},
    "encoding": {"y": {"field": "y", "type": "quantitative", "scale": {"domain": [0, 4800], "reverse": true, "nice": false, "zero": false}, "axis": null}, "y2": {"field": "y2"},
     "x": {"field": "x", "type": "quantitative", "scale": {"domain": [0, 55], "nice": false, "zero": false}, "axis": null}, "x2": {"field": "x2"}}},
   {"data": {"name": "head"}, "mark": {"type": "point", "shape": "M0,-1L0.182,1L-0.182,1Z", "filled": true, "size": 14641, "color": "#b5b5b5", "opacity": 1, "strokeWidth": 0},
    "encoding": {"y": {"field": "y", "type": "quantitative", "scale": {"domain": [0, 4800], "reverse": true, "nice": false, "zero": false}, "axis": null},
     "x": {"field": "x", "type": "quantitative", "scale": {"domain": [0, 55], "nice": false, "zero": false}, "axis": null}}},
   {"data": {"values": [{"x": 41, "y": 2390, "t": "Finer Sediments; Higher Corg flux; Lower Dissolved Oxygen"}]},
    "mark": {"type": "text", "angle": 270, "align": "center", "baseline": "middle", "font": "Liberation Sans Narrow, Liberation Sans", "fontSize": 17.5, "fontWeight": "bold", "color": "#111"},
    "encoding": {"x": {"field": "x", "type": "quantitative", "scale": {"domain": [0, 55], "nice": false, "zero": false}, "axis": null}, "y": {"field": "y", "type": "quantitative", "scale": {"domain": [0, 4800], "reverse": true, "nice": false, "zero": false}, "axis": null}, "text": {"field": "t"}}}
  ]
 }
]
}
